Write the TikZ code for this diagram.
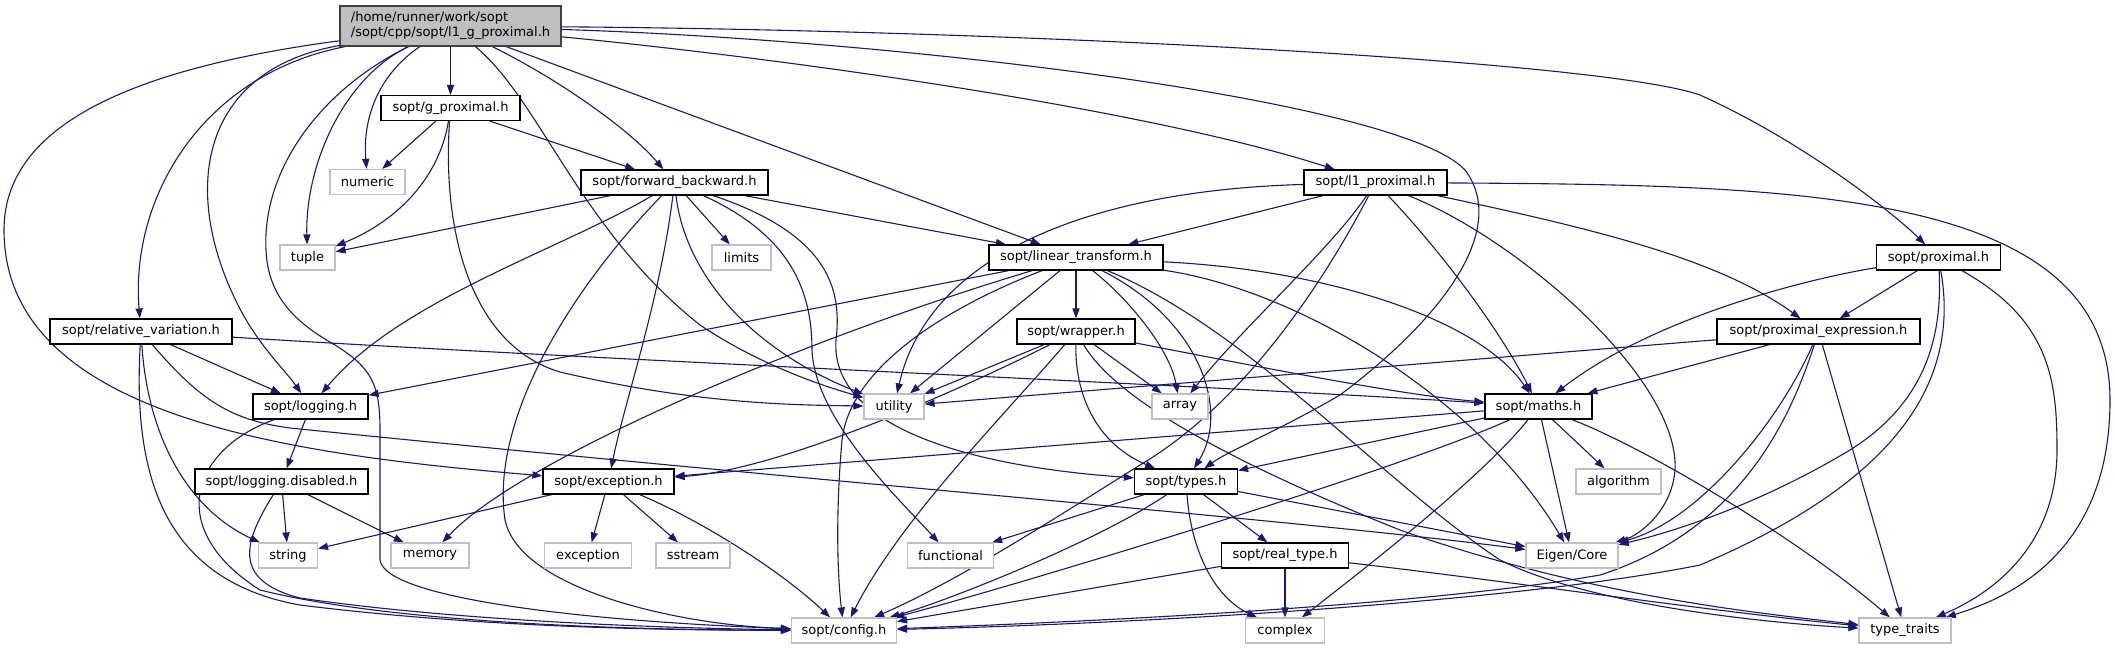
\documentclass[tikz,border=0pt]{standalone}
\usepackage{fontspec}
\setmainfont{DejaVu Sans}
\usetikzlibrary{arrows.meta}
\definecolor{edgec}{HTML}{191970}
\definecolor{sysb}{HTML}{BFBFBF}
\definecolor{mainf}{HTML}{BFBFBF}
\definecolor{mainb}{HTML}{404040}
\pgfdeclarelayer{bg}
\pgfsetlayers{bg,main}
\tikzset{
  hdr/.style={draw=black, line width=0.6pt, fill=white, minimum height=12.5pt, inner sep=0pt, font=\fontsize{6.5pt}{7.5pt}\selectfont},
  sys/.style={hdr, draw=sysb},
  e/.style={draw=edgec, line width=0.55pt, -{Triangle[length=5pt,width=3.6pt]}},
}
\begin{document}
\begin{tikzpicture}[x=0.5pt,y=-0.5pt]
\useasboundingbox (0,0) rectangle (2115,649);
% nodes
\node[hdr, fill=mainf, draw=mainb, minimum width=110.5pt, minimum height=20pt, align=left] (M) at (450.5,26) {/home/runner/work/sopt\\/sopt/cpp/sopt/l1\_g\_proximal.h};
\node[hdr, minimum width=69.5pt] (GP) at (450.5,108) {sopt/g\_proximal.h};
\node[sys, minimum width=37.5pt] (NUM) at (367.5,182) {numeric};
\node[sys, minimum width=27.5pt] (TUP) at (307.5,257.5) {tuple};
\node[hdr, minimum width=93.5pt] (FB) at (674.5,182.5) {sopt/forward\_backward.h};
\node[hdr, minimum width=91pt] (RV) at (141,331.5) {sopt/relative\_variation.h};
\node[sys, minimum width=29.5pt] (LIM) at (741.5,257.5) {limits};
\node[hdr, minimum width=87pt] (LT) at (1076,257.5) {sopt/linear\_transform.h};
\node[hdr, minimum width=71.5pt] (L1) at (1375.5,182.5) {sopt/l1\_proximal.h};
\node[hdr, minimum width=59pt] (WR) at (1076,331.5) {sopt/wrapper.h};
\node[hdr, minimum width=62pt] (PX) at (1938.5,257.5) {sopt/proximal.h};
\node[hdr, minimum width=101.5pt] (PE) at (1818.5,331.5) {sopt/proximal\_expression.h};
\node[hdr, minimum width=57.5pt] (LOG) at (310.5,406.5) {sopt/logging.h};
\node[hdr, minimum width=86.5pt] (LD) at (281.5,481.5) {sopt/logging.disabled.h};
\node[hdr, minimum width=65.5pt] (EXH) at (608.5,481.5) {sopt/exception.h};
\node[sys, minimum width=29.5pt] (STR) at (288,555.5) {string};
\node[sys, minimum width=39pt] (MEM) at (430,555.5) {memory};
\node[sys, minimum width=43.5pt] (EXC) at (588,555.5) {exception};
\node[sys, minimum width=37pt] (SST) at (693,555.5) {sstream};
\node[sys, minimum width=30pt] (UT) at (894,406.5) {utility};
\node[sys, minimum width=28pt] (AR) at (1180,406.5) {array};
\node[hdr, minimum width=51.5pt] (TY) at (1186,481.5) {sopt/types.h};
\node[sys, minimum width=43pt] (FN) at (950.5,555.5) {functional};
\node[hdr, minimum width=63.5pt] (RT) at (1285,555.5) {sopt/real\_type.h};
\node[sys, minimum width=52.5pt] (CF) at (844,630.5) {sopt/config.h};
\node[sys, minimum width=39.5pt] (CX) at (1285,630.5) {complex};
\node[hdr, minimum width=53.5pt] (MA) at (1538.5,406.5) {sopt/maths.h};
\node[sys, minimum width=42.5pt] (ALG) at (1618.5,481.5) {algorithm};
\node[sys, minimum width=46pt] (EC) at (1572,555.5) {Eigen/Core};
\node[sys, minimum width=46pt] (TT) at (1905,630.5) {type\_traits};
% edges
\begin{pgfonlayer}{bg}
% main
\draw[e] (M) -- (GP);
\draw[e] (M) .. controls (385,70) and (362,110) .. (NUM);
\draw[e] (M) .. controls (340,80) and (305,170) .. (TUP);
\draw[e] (M) .. controls (540,100) and (580,230) .. (700,325) .. controls (760,365) and (820,385) .. (UT);
\draw[e] (M) .. controls (560,80) and (630,130) .. (FB);
\draw[e] (M) -- (LT);
\draw[e] (M) .. controls (800,60) and (1150,110) .. (L1);
\draw[e] (M) .. controls (900,40) and (1400,100) .. (1465,170) .. controls (1510,230) and (1440,320) .. (1340,395) .. controls (1280,430) and (1230,450) .. (TY);
\draw[e] (M) .. controls (1000,30) and (1600,60) .. (1700,95) .. controls (1800,140) and (1890,210) .. (PX);
\draw[e] (M) .. controls (200,75) and (130,200) .. (RV);
\draw[e] (M) .. controls (120,70) and (4,130) .. (4,230) .. controls (4,420) and (300,455) .. (EXH);
\draw[e] (M) .. controls (200,70) and (180,190) .. (238,305) .. controls (258,345) and (285,370) .. (LOG);
\draw[e] (M) .. controls (320,90) and (262,170) .. (266,250) .. controls (268,300) and (300,325) .. (335,345) .. controls (372,368) and (380,385) .. (380,430) -- (380,560) .. controls (385,600) and (600,622) .. (CF);
% g_proximal
\draw[e] (GP) -- (NUM);
\draw[e] (GP) .. controls (440,175) and (400,220) .. (TUP);
\draw[e] (GP) .. controls (442,230) and (470,345) .. (560,372) .. controls (700,405) and (800,405) .. (UT);
\draw[e] (GP) -- (FB);
% forward_backward
\draw[e] (FB) -- (TUP);
\draw[e] (FB) -- (LIM);
\draw[e] (FB) -- (LT);
\draw[e] (FB) .. controls (560,250) and (400,300) .. (LOG);
\draw[e] (FB) .. controls (570,290) and (490,420) .. (505,520) .. controls (520,590) and (680,625) .. (CF);
\draw[e] (FB) .. controls (660,300) and (625,400) .. (EXH);
\draw[e] (FB) .. controls (684,265) and (740,345) .. (UT);
\draw[e] (FB) .. controls (790,235) and (812,290) .. (812,350) .. controls (815,420) and (900,500) .. (FN);
\draw[e] (FB) .. controls (830,235) and (842,290) .. (836,340) .. controls (830,420) and (950,465) .. (TY);
% linear_transform
\draw[e] (LT) -- (LOG);
\draw[e] (LT) .. controls (800,340) and (520,460) .. (MEM);
\draw[e] (LT) -- (UT);
\draw[e] (LT) -- (WR);
\draw[e] (LT) .. controls (1130,300) and (1170,350) .. (AR);
\draw[e] (LT) .. controls (1200,320) and (1230,410) .. (TY);
\draw[e] (LT) .. controls (940,310) and (850,370) .. (842,440) .. controls (835,520) and (838,580) .. (CF);
\draw[e] (LT) .. controls (1330,270) and (1480,320) .. (MA);
\draw[e] (LT) .. controls (1300,290) and (1480,400) .. (EC);
\draw[e] (LT) .. controls (1250,330) and (1380,480) .. (1500,560) .. controls (1600,610) and (1800,625) .. (TT);
% l1_proximal
\draw[e] (L1) -- (LT);
\draw[e] (L1) .. controls (1100,190) and (930,250) .. (UT);
\draw[e] (L1) .. controls (1330,250) and (1240,330) .. (AR);
\draw[e] (L1) .. controls (1330,270) and (1250,400) .. (1140,465) .. controls (1060,515) and (960,580) .. (CF);
\draw[e] (L1) .. controls (1440,250) and (1500,330) .. (MA);
\draw[e] (L1) .. controls (1520,240) and (1680,380) .. (1675,470) .. controls (1672,510) and (1640,535) .. (EC);
\draw[e] (L1) .. controls (1600,230) and (1720,260) .. (PE);
\draw[e] (L1) .. controls (1800,185) and (2110,190) .. (2110,400) .. controls (2110,560) and (2000,600) .. (TT);
% wrapper
\draw[e] (WR) -- (UT);
\draw[e] (WR) .. controls (960,390) and (780,470) .. (EXH);
\draw[e] (WR) .. controls (1000,420) and (900,520) .. (CF);
\draw[e] (WR) .. controls (1075,400) and (1100,445) .. (TY);
\draw[e] (WR) -- (AR);
\draw[e] (WR) .. controls (1110,390) and (1200,450) .. (1400,530) .. controls (1600,600) and (1780,615) .. (TT);
\draw[e] (WR) .. controls (1250,365) and (1400,395) .. (MA);
% relative_variation
\draw[e] (RV) -- (LOG);
\draw[e] (RV) .. controls (600,360) and (1200,385) .. (MA);
\draw[e] (RV) .. controls (200,400) and (230,420) .. (290,428) .. controls (800,480) and (1300,520) .. (EC);
\draw[e] (RV) .. controls (148,440) and (190,510) .. (STR);
\draw[e] (RV) .. controls (133,470) and (160,580) .. (300,605) .. controls (500,630) and (700,630) .. (CF);
% logging
\draw[e] (LOG) -- (LD);
\draw[e] (LOG) .. controls (190,450) and (165,530) .. (260,590) .. controls (400,625) and (650,630) .. (CF);
% logging.disabled
\draw[e] (LD) -- (STR);
\draw[e] (LD) -- (MEM);
\draw[e] (LD) .. controls (245,540) and (230,580) .. (300,598) .. controls (450,620) and (650,628) .. (CF);
% exception
\draw[e] (EXH) -- (STR);
\draw[e] (EXH) -- (EXC);
\draw[e] (EXH) -- (SST);
\draw[e] (EXH) .. controls (700,520) and (780,570) .. (CF);
% types
\draw[e] (TY) -- (FN);
\draw[e] (TY) .. controls (1100,540) and (950,600) .. (CF);
\draw[e] (TY) .. controls (1192,560) and (1220,600) .. (CX);
\draw[e] (TY) -- (RT);
\draw[e] (TY) -- (EC);
% real_type
\draw[e] (RT) -- (CF);
\draw[e] (RT) -- (CX);
\draw[e] (RT) .. controls (1500,580) and (1700,610) .. (TT);
% maths
\draw[e] (MA) -- (EXH);
\draw[e] (MA) -- (TY);
\draw[e] (MA) .. controls (1400,470) and (1000,590) .. (CF);
\draw[e] (MA) .. controls (1480,480) and (1350,580) .. (CX);
\draw[e] (MA) -- (EC);
\draw[e] (MA) -- (ALG);
\draw[e] (MA) .. controls (1650,450) and (1800,540) .. (TT);
% proximal_expression
\draw[e] (PE) -- (UT);
\draw[e] (PE) -- (MA);
\draw[e] (PE) .. controls (1780,420) and (1700,520) .. (EC);
\draw[e] (PE) .. controls (1790,420) and (1740,530) .. (1600,575) .. controls (1400,610) and (1000,625) .. (CF);
\draw[e] (PE) -- (TT);
% proximal
\draw[e] (PX) -- (PE);
\draw[e] (PX) .. controls (1800,280) and (1650,320) .. (MA);
\draw[e] (PX) .. controls (1942,330) and (1930,400) .. (1850,450) .. controls (1750,510) and (1660,535) .. (EC);
\draw[e] (PX) .. controls (1960,380) and (1900,480) .. (1700,565) .. controls (1500,605) and (1100,625) .. (CF);
\draw[e] (PX) .. controls (2050,320) and (2057,380) .. (2057,450) .. controls (2057,540) and (2000,590) .. (TT);
\end{pgfonlayer}
\end{tikzpicture}
\end{document}
